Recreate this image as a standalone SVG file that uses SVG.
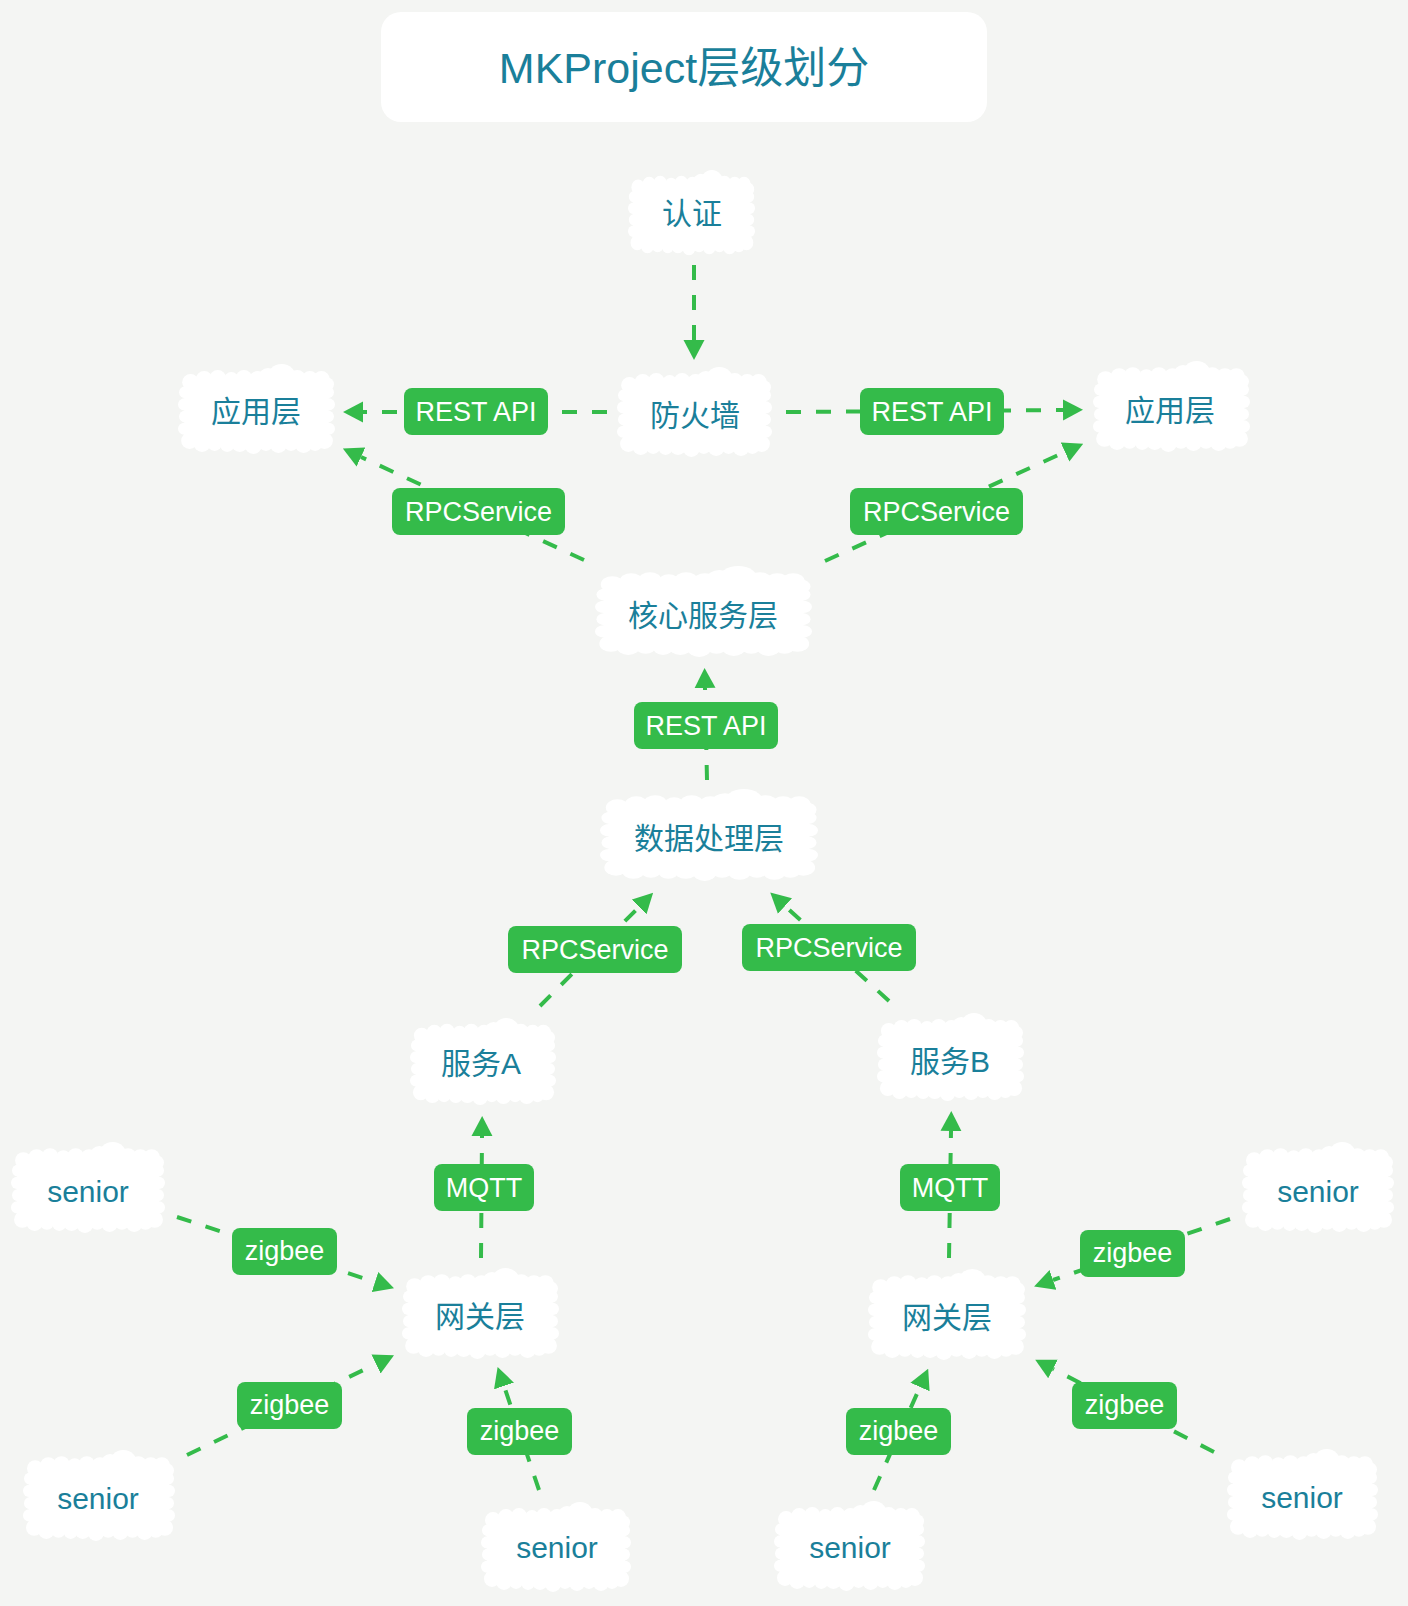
<svg xmlns="http://www.w3.org/2000/svg" width="1408" height="1606" viewBox="0 0 1408 1606">
<style>
.bg{fill:#f4f5f3}
.title{font-family:"Liberation Sans","Noto Sans CJK SC",sans-serif;font-size:43px;fill:#1a7f9a;text-anchor:middle}
.nt{font-family:"Liberation Sans","Noto Sans CJK SC",sans-serif;font-size:30px;fill:#1a7f9a;text-anchor:middle}
.edge{stroke:#34bb4a;stroke-width:4;stroke-dasharray:15 15;fill:none;marker-end:url(#arr)}
.lb rect{fill:#34bb4a}
.lb text{font-family:"Liberation Sans","Noto Sans CJK SC",sans-serif;font-size:27px;fill:#ffffff;text-anchor:middle}
</style>
<defs>
<marker id="arr" viewBox="0 -11 20 22" refX="0" refY="0" markerWidth="20" markerHeight="22" markerUnits="userSpaceOnUse" orient="auto">
<path d="M0,-10.5 L20,0 L0,10.5 Z" fill="#34bb4a"/>
</marker>
<symbol id="cloud" viewBox="0 0 150 92" preserveAspectRatio="none">
<g fill="#ffffff">
<rect x="6" y="13" width="138" height="66" rx="8"/>
<circle cx="12" cy="18" r="8"/><circle cx="25" cy="15" r="8"/><circle cx="38" cy="14" r="8"/><circle cx="51" cy="15" r="7"/><circle cx="63" cy="14" r="8"/><circle cx="76" cy="15" r="8"/><circle cx="86" cy="13" r="9"/><circle cx="99" cy="14" r="14"/><circle cx="114" cy="14" r="8"/><circle cx="126" cy="15" r="8"/><circle cx="137" cy="15" r="8"/><circle cx="142" cy="20" r="7"/>
<circle cx="11" cy="76" r="8"/><circle cx="23" cy="79" r="8"/><circle cx="35" cy="79" r="7"/><circle cx="47" cy="80" r="7"/><circle cx="59" cy="79" r="8"/><circle cx="72" cy="81" r="8"/><circle cx="84" cy="79" r="7"/><circle cx="96" cy="80" r="8"/><circle cx="108" cy="79" r="7"/><circle cx="120" cy="80" r="8"/><circle cx="131" cy="79" r="7"/><circle cx="140" cy="76" r="8"/>
<circle cx="7" cy="28" r="6"/><circle cx="6" cy="40" r="6"/><circle cx="7" cy="52" r="6"/><circle cx="6" cy="64" r="6"/>
<circle cx="143" cy="28" r="6"/><circle cx="144" cy="40" r="6"/><circle cx="143" cy="52" r="6"/><circle cx="144" cy="64" r="6"/>
</g>
</symbol>
</defs>
<rect class="bg" x="0" y="0" width="1408" height="1606"/>

<g id="title">
<rect x="381" y="12" width="606" height="110" rx="20" fill="#ffffff"/>
<text class="title" x="684" y="83">MKProject层级划分</text>
</g>

<g id="connectors">
<line class="edge" x1="694" y1="265" x2="694" y2="340"/>
<line class="edge" x1="607" y1="412" x2="363" y2="412"/>
<line class="edge" x1="786" y1="412" x2="1063" y2="410"/>
<line class="edge" x1="584" y1="560" x2="361" y2="457"/>
<line class="edge" x1="825" y1="561" x2="1065" y2="452"/>
<line class="edge" x1="707" y1="780" x2="705" y2="688"/>
<line class="edge" x1="540" y1="1006" x2="639" y2="907"/>
<line class="edge" x1="889" y1="1001" x2="785" y2="906"/>
<line class="edge" x1="481" y1="1258" x2="482" y2="1136"/>
<line class="edge" x1="949" y1="1258" x2="951" y2="1131"/>
<line class="edge" x1="177" y1="1217" x2="375" y2="1282"/>
<line class="edge" x1="187" y1="1455" x2="376" y2="1364"/>
<line class="edge" x1="539" y1="1490" x2="504" y2="1386"/>
<line class="edge" x1="1230" y1="1219" x2="1053" y2="1280"/>
<line class="edge" x1="1214" y1="1452" x2="1053" y2="1369"/>
<line class="edge" x1="874" y1="1490" x2="920" y2="1387"/>
</g>

<g id="edge-labels">
<g class="lb" id="lb-rest-l"><rect x="404" y="388" width="144" height="47" rx="8"/><text x="476" y="421">REST API</text></g>
<g class="lb" id="lb-rest-r"><rect x="860" y="388" width="144" height="47" rx="8"/><text x="932" y="421">REST API</text></g>
<g class="lb" id="lb-rpc-l"><rect x="392" y="488" width="173" height="47" rx="8"/><text x="478.5" y="521">RPCService</text></g>
<g class="lb" id="lb-rpc-r"><rect x="850" y="488" width="173" height="47" rx="8"/><text x="936.5" y="521">RPCService</text></g>
<g class="lb" id="lb-rest-c"><rect x="634" y="702" width="144" height="47" rx="8"/><text x="706" y="735">REST API</text></g>
<g class="lb" id="lb-rpc-ll"><rect x="508" y="926" width="174" height="47" rx="8"/><text x="595" y="959">RPCService</text></g>
<g class="lb" id="lb-rpc-lr"><rect x="742" y="924" width="174" height="47" rx="8"/><text x="829" y="957">RPCService</text></g>
<g class="lb" id="lb-mqtt-l"><rect x="434" y="1164" width="100" height="47" rx="8"/><text x="484" y="1197">MQTT</text></g>
<g class="lb" id="lb-mqtt-r"><rect x="900" y="1164" width="100" height="47" rx="8"/><text x="950" y="1197">MQTT</text></g>
<g class="lb" id="lb-zb-tl"><rect x="232" y="1228" width="105" height="47" rx="8"/><text x="284.5" y="1260">zigbee</text></g>
<g class="lb" id="lb-zb-bl"><rect x="237" y="1382" width="105" height="47" rx="8"/><text x="289.5" y="1414">zigbee</text></g>
<g class="lb" id="lb-zb-bcl"><rect x="467" y="1408" width="105" height="47" rx="8"/><text x="519.5" y="1440">zigbee</text></g>
<g class="lb" id="lb-zb-tr"><rect x="1080" y="1230" width="105" height="47" rx="8"/><text x="1132.5" y="1262">zigbee</text></g>
<g class="lb" id="lb-zb-br"><rect x="1072" y="1382" width="105" height="47" rx="8"/><text x="1124.5" y="1414">zigbee</text></g>
<g class="lb" id="lb-zb-bcr"><rect x="846" y="1408" width="105" height="47" rx="8"/><text x="898.5" y="1440">zigbee</text></g>
</g>

<g id="nodes">
<g id="n-auth"><use href="#cloud" x="628" y="170" width="127" height="88"/><text class="nt" x="692" y="224">认证</text></g>
<g id="n-firewall"><use href="#cloud" x="617" y="367" width="155" height="93"/><text class="nt" x="695" y="426">防火墙</text></g>
<g id="n-app-l"><use href="#cloud" x="178" y="364" width="157" height="93"/><text class="nt" x="256" y="422">应用层</text></g>
<g id="n-app-r"><use href="#cloud" x="1093" y="361" width="157" height="94"/><text class="nt" x="1170" y="421">应用层</text></g>
<g id="n-core"><use href="#cloud" x="595" y="566" width="217" height="94"/><text class="nt" x="703" y="626">核心服务层</text></g>
<g id="n-data"><use href="#cloud" x="600" y="789" width="218" height="95"/><text class="nt" x="709" y="849">数据处理层</text></g>
<g id="n-svc-a"><use href="#cloud" x="410" y="1018" width="146" height="90"/><text class="nt" x="481" y="1074">服务A</text></g>
<g id="n-svc-b"><use href="#cloud" x="877" y="1013" width="147" height="91"/><text class="nt" x="950" y="1072">服务B</text></g>
<g id="n-gw-l"><use href="#cloud" x="402" y="1268" width="157" height="94"/><text class="nt" x="480" y="1327">网关层</text></g>
<g id="n-gw-r"><use href="#cloud" x="868" y="1269" width="158" height="94"/><text class="nt" x="947" y="1328">网关层</text></g>
<g id="n-senior-tl"><use href="#cloud" x="11" y="1142" width="154" height="94"/><text class="nt" x="88" y="1202">senior</text></g>
<g id="n-senior-bl"><use href="#cloud" x="23" y="1450" width="152" height="94"/><text class="nt" x="98" y="1509">senior</text></g>
<g id="n-senior-bcl"><use href="#cloud" x="481" y="1502" width="150" height="93"/><text class="nt" x="557" y="1558">senior</text></g>
<g id="n-senior-bcr"><use href="#cloud" x="774" y="1501" width="151" height="93"/><text class="nt" x="850" y="1558">senior</text></g>
<g id="n-senior-tr"><use href="#cloud" x="1242" y="1142" width="152" height="94"/><text class="nt" x="1318" y="1202">senior</text></g>
<g id="n-senior-br"><use href="#cloud" x="1227" y="1449" width="151" height="94"/><text class="nt" x="1302" y="1508">senior</text></g>
</g>
</svg>
